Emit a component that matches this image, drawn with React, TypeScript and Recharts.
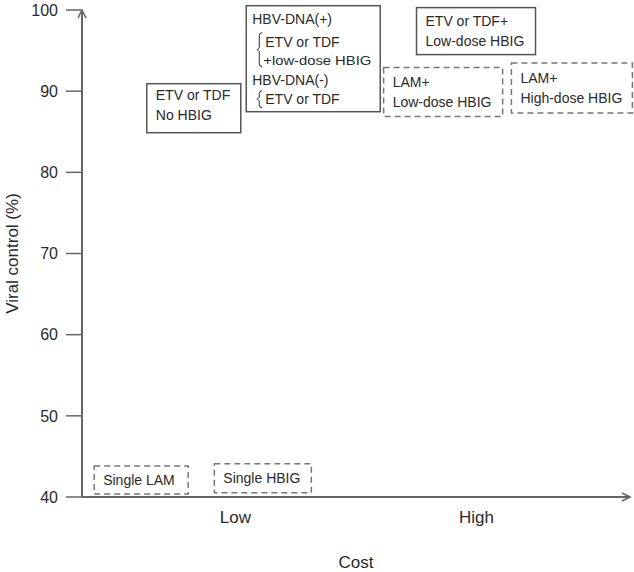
import React from 'react';
import { ScatterChart, Scatter, XAxis, YAxis, ReferenceDot } from 'recharts';

// Axis categories / ticks
const costCategories = ['Low', 'High'];
const costTickValues = [28, 72];
const viralTicks = [40, 50, 60, 70, 80, 90, 100];

// Strategy annotations: label lines, cost position, viral control (%)
const strategyLines: string[][] = [
  ['ETV or TDF', 'No HBIG'],
  ['HBV-DNA(+)', 'ETV or TDF', '+low-dose HBIG', 'HBV-DNA(-)', 'ETV or TDF'],
  ['ETV or TDF+', 'Low-dose HBIG'],
  ['LAM+', 'Low-dose HBIG'],
  ['LAM+', 'High-dose HBIG'],
  ['Single LAM'],
  ['Single HBIG'],
];
const strategyCost = [20.4, 42.2, 71.9, 65.9, 89.4, 10.8, 33.0];
const strategyControl = [87.9, 94.0, 97.4, 89.9, 90.4, 42.1, 42.3];

// Styles (separate from data)
const boxStyles = [
  { w: 94, h: 49, dashed: false, dy: -3 },
  { w: 134, h: 106, dashed: false, dy: 0 },
  { w: 119, h: 47, dashed: false, dy: 0 },
  { w: 119, h: 49, dashed: true, dy: 0 },
  { w: 121, h: 50, dashed: true, dy: 0 },
  { w: 94, h: 28, dashed: true, dy: 0 },
  { w: 97, h: 29, dashed: true, dy: 0 },
];

const FONT = '"Liberation Sans", Arial, Helvetica, sans-serif';
const AXIS = '#666';
const TEXT = '#2a2a2a';

const data = strategyLines.map((lines, i) => ({
  x: strategyCost[i],
  y: strategyControl[i],
  idx: i,
  lines,
}));

const renderBox = (idx: number, lines: string[]) => (props: any) => {
  const { cx, cy } = props;
  if (cx == null || cy == null) return null;
  const st = boxStyles[idx];
  const left = cx - st.w / 2;
  const top = cy - st.h / 2;
  const rect = (
    <rect
      x={left}
      y={top}
      width={st.w}
      height={st.h}
      fill="#fff"
      stroke={st.dashed ? '#777' : '#555'}
      strokeWidth={1.5}
      strokeDasharray={st.dashed ? '6 4' : undefined}
    />
  );
  if (lines.length === 5) {
    // HBV-DNA structured box
    const rel = [13, 36, 55, 74, 93];
    const xs = [6, 19, 17, 6, 19];
    const sizes = [14, 14, 13, 14, 14];
    const stretch = [undefined, undefined, 108, undefined, undefined];
    const bx = left + 13;
    const b1a = top + 27;
    const b1b = top + 61;
    const b1m = (b1a + b1b) / 2;
    const b2a = top + 85;
    const b2b = top + 102;
    const b2m = (b2a + b2b) / 2;
    const brace = (a: number, b: number, m: number) =>
      `M${bx + 3},${a} Q${bx},${a} ${bx},${a + 3} L${bx},${m - 2} L${bx - 2},${m} L${bx},${m + 2} L${bx},${b - 3} Q${bx},${b} ${bx + 3},${b}`;
    return (
      <g>
        {rect}
        <path d={brace(b1a, b1b, b1m)} fill="none" stroke={TEXT} strokeWidth={1} />
        <path d={brace(b2a, b2b, b2m)} fill="none" stroke={TEXT} strokeWidth={1} />
        {lines.map((t, i) => (
          <text
            key={i}
            x={left + xs[i]}
            y={top + rel[i] + sizes[i] * 0.36}
            fontSize={sizes[i]}
            fontFamily={FONT}
            fill={TEXT}
            textLength={stretch[i]}
            lengthAdjust={stretch[i] ? 'spacingAndGlyphs' : undefined}
          >
            {t}
          </text>
        ))}
      </g>
    );
  }
  const gap = 20;
  return (
    <g>
      {rect}
      {lines.map((t, i) => (
        <text
          key={i}
          x={left + 9}
          y={cy + (i - (lines.length - 1) / 2) * gap + 5 + st.dy}
          fontSize={14}
          fontFamily={FONT}
          fill={TEXT}
        >
          {t}
        </text>
      ))}
    </g>
  );
};

export default function App() {
  return (
    <div style={{ position: 'fixed', left: 0, top: 0, width: 634, height: 572, background: '#fff' }}>
      <ScatterChart
        width={634}
        height={572}
        margin={{ top: 10, right: 4, bottom: 0, left: 0 }}
        style={{ fontFamily: FONT }}
      >
        <defs>
          <marker
            id="arrowHead"
            viewBox="0 0 10 10"
            refX="9"
            refY="5"
            markerWidth="10"
            markerHeight="10"
            markerUnits="userSpaceOnUse"
            orient="auto-start-reverse"
          >
            <path d="M1,1 L9,5 L1,9" fill="none" stroke={AXIS} strokeWidth={1.6} />
          </marker>
        </defs>
        <XAxis
          type="number"
          dataKey="x"
          domain={[0, 100]}
          ticks={costTickValues}
          tickFormatter={(v: number) => costCategories[costTickValues.indexOf(v)] ?? ''}
          tickLine={false}
          axisLine={{ stroke: AXIS, strokeWidth: 2, markerEnd: 'url(#arrowHead)' } as any}
          tick={{ fill: TEXT, fontSize: 17, fontFamily: FONT }}
          tickMargin={8}
          height={75}
          label={{ value: 'Cost', position: 'insideBottom', offset: 4, fill: TEXT, fontSize: 17, fontFamily: FONT }}
        />
        <YAxis
          type="number"
          dataKey="y"
          domain={[40, 100]}
          ticks={viralTicks}
          tickSize={16}
          tickMargin={8}
          width={82}
          tickLine={{ stroke: AXIS, strokeWidth: 1.5 }}
          axisLine={{ stroke: AXIS, strokeWidth: 2, markerStart: 'url(#arrowHead)' } as any}
          tick={{ fill: TEXT, fontSize: 16, fontFamily: FONT }}
          label={{ value: 'Viral control (%)', angle: -90, position: 'insideLeft', offset: 12, fill: TEXT, fontSize: 17, fontFamily: FONT, style: { textAnchor: 'middle' } }}
        />
        <Scatter data={data} shape={() => <g />} isAnimationActive={false} />
        {data.map((d) => (
          <ReferenceDot
            key={d.idx}
            x={d.x}
            y={d.y}
            ifOverflow="visible"
            shape={renderBox(d.idx, d.lines)}
          />
        ))}
      </ScatterChart>
    </div>
  );
}
